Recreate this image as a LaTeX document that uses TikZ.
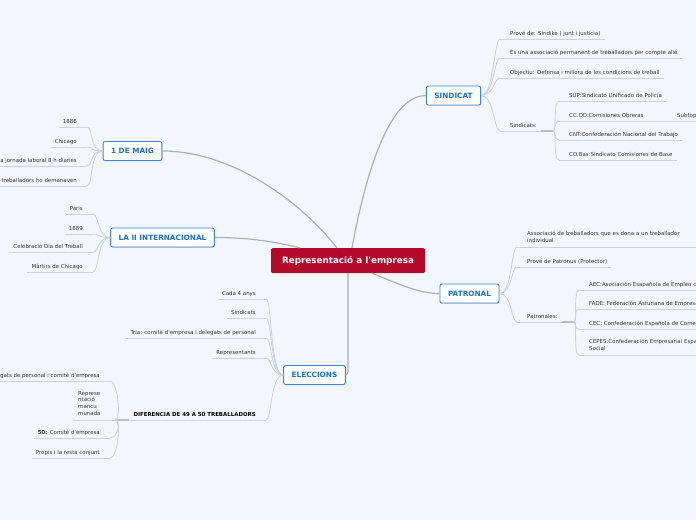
\documentclass[tikz,border=0pt]{standalone}
\usepackage{fontspec}
\setmainfont{DejaVu Sans}[Ligatures=TeXOff]
\usetikzlibrary{calc,shadows}
\definecolor{bgc}{HTML}{F3F6FD}
\definecolor{redc}{HTML}{B30A2B}
\definecolor{topicblue}{HTML}{3B86DF}
\definecolor{topictext}{HTML}{1B6FD1}
\definecolor{leaftext}{HTML}{333333}
\definecolor{lightline}{HTML}{CDD1DA}
\definecolor{hubc}{HTML}{B9BCC3}
\definecolor{mainline}{HTML}{ADAFB4}
\newcommand{\leaffont}{\fontsize{5.45}{6.8}\selectfont}
\newcommand{\topicfont}{\fontsize{7.3}{8.5}\selectfont\bfseries}
\newcommand{\centralfont}{\fontsize{8.8}{10}\selectfont\bfseries}
\begin{document}
\begin{tikzpicture}[x=1pt,y=-1pt,
  leafbase/.style={font=\leaffont, text=leaftext, inner ysep=2.2pt, inner xsep=0pt},
  leaf/.style={leafbase, text depth=1.5pt},
  rleaf/.style={leaf, anchor=south west, execute at begin node={\hspace*{10pt}}, execute at end node={\hspace*{4pt}}},
  lleaf/.style={leaf, anchor=south east, execute at begin node={\hspace*{4pt}}, execute at end node={\hspace*{10pt}}},
  rleafm/.style={leafbase, anchor=south west, inner xsep=10pt, align=left, execute at end node={\strut}},
  topic/.style={draw=topicblue, line width=0.9pt, fill=white, rounded corners=2pt, text=topictext, font=\topicfont, inner xsep=8pt, minimum height=19pt, drop shadow={opacity=0.25, shadow xshift=0.6pt, shadow yshift=-0.8pt}},
  central/.style={fill=redc, rounded corners=1.5pt, text=white, font=\centralfont, minimum width=154pt, minimum height=25pt, inner sep=0pt},
  uline/.style={draw=lightline, line width=0.8pt},
  leafc/.style={draw=lightline, line width=0.8pt},
  hubline/.style={draw=hubc, line width=1.6pt},
  mainc/.style={draw=mainline, line width=1.2pt}]
\useasboundingbox (0,0) rectangle (696,520);
\fill[bgc] (0,0) rectangle (696,520);
\begin{scope}
\clip (0,0) rectangle (696,520);

% central and main topics
\node[central] (rep) at (348,260.5) {Representació a l'empresa};
\node[topic] (sind) at (453.5,95.5) {SINDICAT};
\node[topic] (maig) at (132.5,151) {1 DE MAIG};
\node[topic] (inter) at (162.5,237.5) {LA II INTERNACIONAL};
\node[topic] (patr) at (469.5,293.5) {PATRONAL};
\node[topic] (elec) at (314.5,375) {ELECCIONS};

% SINDICAT leaves
\node[rleaf] (s1) at (500,39) {Prové de: Sindike ( junt i justicia)};
\node[rleaf] (s2) at (500,58) {És una associació permanent de treballadors per compte alié};
\node[rleaf] (s3) at (500,78) {Objectiu: Defensa i millora de les condicions de treball};
\node[rleaf] (s4) at (500,131) {Sindicats:};
\coordinate (s4hub) at ($(s4.south east)+(12,0)$);
\node[rleaf] (k1) at (559,101) {SUP:Sindicato Unificado de Policia};
\node[rleaf] (k2) at (559,121) {CC.OO:Comisiones Obreras};
\node[rleaf] (k2a) at (667,121) {Subtopic};
\node[rleaf] (k3) at (559,140) {CNT:Confederación Nacional del Trabajo};
\node[rleaf] (k4) at (559,160) {CO.Bas:Sindicato Comisiones de Base};

% PATRONAL leaves
\node[rleafm, text width=170pt] (p1) at (517,247) {Associació de treballadors que es dona a un treballador\\individual};
\node[rleaf] (p2) at (517,267) {Prové de Patronus (Protector)};
\node[rleaf] (p3) at (517,322) {Patronales:};
\coordinate (p3hub) at ($(p3.south east)+(12,0)$);
\node[rleaf] (q1) at (579,290) {AEC:Asociación Esapañola de Empleo con Apoyo};
\node[rleaf] (q2) at (579,309) {FADE: Federación Asturiana de Empresarios};
\node[rleaf] (q3) at (579,329) {CEC: Confederación Española de Comercio};
\node[rleafm, text width=170pt] (q4) at (579,355) {CEPES:Confederación Empresarial Española de la Economía\\Social};

% 1 DE MAIG leaves
\node[lleaf] (m1) at (87,127) {1886};
\node[lleaf] (m2) at (87,147) {Chicago};
\node[lleaf] (m3) at (87,166) {la jornada laboral 8 h diaries};
\node[lleaf] (m4) at (87,186) {treballadors ho demanaven};

% LA II INTERNACIONAL leaves
\node[lleaf] (i1) at (93,214) {Paris};
\node[lleaf] (i2) at (93,234) {1889};
\node[lleaf] (i3) at (93,252) {Celebració Dia del Treball};
\node[lleaf] (i4) at (93,272) {Màrtirs de Chicago};

% ELECCIONS leaves
\node[lleaf] (e1) at (266,299) {Cada 4 anys};
\node[lleaf] (e2) at (266,318) {Sindicats};
\node[lleaf] (e3) at (266,338) {Tria: comitè d'empresa i delegats de personal};
\node[lleaf] (e4) at (266,358) {Representants};
\node[lleaf, font=\leaffont\bfseries, text=black] (dif) at (266,420) {DIFERENCIA DE 49 A 50 TREBALLADORS};
\coordinate (difhub) at ($(dif.south west)+(-14,0)$);
\node[lleaf] (d1) at (110,381) {delegats de personal i comitè d'empresa};
\node[leafbase, anchor=south west, inner xsep=5pt, text width=27pt, align=left, execute at end node={\strut}] (d2) at (73,420) {Represe\\ntació\\mancu\\munada};
\node[lleaf] (d3) at (110,438) {\textbf{50:} Comitè d'empresa};
\node[lleaf] (d4) at (110,458) {Propis i la resta conjunt};

% underlines
\foreach \n in {s1,s2,s3,s4,k1,k2,k2a,k3,k4,p1,p2,p3,q1,q2,q3,q4,m1,m2,m3,m4,i1,i2,i3,i4,e1,e2,e3,e4,dif,d1,d2,d3,d4}
  \draw[uline] (\n.south west) -- (\n.south east);
\draw[hubline] (s4.south east) -- (s4hub);
\draw[hubline] (p3.south east) -- (p3hub);
\draw[hubline] (difhub) -- (dif.south west);

% leaf connectors
\foreach \n in {s1,s2,s3,s4}
  \draw[leafc] (sind.east) .. controls +(13,0) and +(-6,0) .. (\n.south west);
\foreach \n in {k1,k2,k3,k4}
  \draw[leafc] (s4hub) .. controls +(4,0) and +(-6,0) .. (\n.south west);
\draw[leafc] (k2.south east) -- (k2a.south west);
\foreach \n in {p1,p2,p3}
  \draw[leafc] (patr.east) .. controls +(13,0) and +(-6,0) .. (\n.south west);
\foreach \n in {q1,q2,q3,q4}
  \draw[leafc] (p3hub) .. controls +(4,0) and +(-6,0) .. (\n.south west);
\foreach \n in {m1,m2,m3,m4}
  \draw[leafc] (maig.west) .. controls +(-13,0) and +(6,0) .. (\n.south east);
\foreach \n in {i1,i2,i3,i4}
  \draw[leafc] (inter.west) .. controls +(-13,0) and +(6,0) .. (\n.south east);
\foreach \n in {e1,e2,e3,e4,dif}
  \draw[leafc] (elec.west) .. controls +(-13,0) and +(6,0) .. (\n.south east);
\foreach \n in {d1,d3,d4}
  \draw[leafc] (difhub) .. controls +(6,0) and +(8,0) .. (\n.south east);
\draw[leafc] (difhub) -- (d2.south east);

% main connectors
\draw[mainc] ($(rep.north)+(4,0)$) .. controls +(18,-97) and +(-31,0) .. (sind.west);
\draw[mainc] (maig.east) .. controls +(69,0) and +(-37,-47) .. ($(rep.north)+(-11,0)$);
\draw[mainc] (inter.east) .. controls +(35,0) and +(-25,-6) .. ($(rep.north)+(-48,0)$);
\draw[mainc] ($(rep.south)+(24,0)$) .. controls +(30,12) and +(-21,0) .. (patr.west);
\draw[mainc] (rep.south) -- ($(rep.south |- elec.east)+(0,-4)$) to[out=-90,in=0] (elec.east);
\end{scope}
\end{tikzpicture}
\end{document}
